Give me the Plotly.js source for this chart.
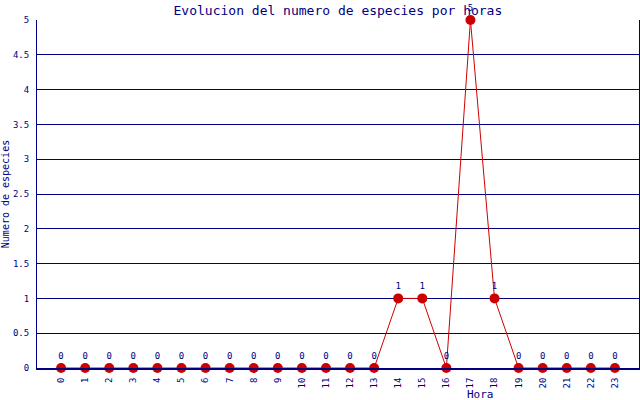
<!DOCTYPE html>
<html>
<head>
<meta charset="utf-8">
<script src="https://cdn.plot.ly/plotly-3.0.1.min.js"></script>
<style>html,body{margin:0;padding:0;background:#fff;}#chart{width:640px;height:400px;}</style>
</head>
<body>
<div id="chart"></div>
<script>
var horas = ["0","1","2","3","4","5","6","7","8","9","10","11","12","13","14","15","16","17","18","19","20","21","22","23"];
var especies = [0,0,0,0,0,0,0,0,0,0,0,0,0,0,1,1,0,5,1,0,0,0,0,0];
var yTicks = [0,0.5,1,1.5,2,2.5,3,3.5,4,4.5,5];

var navy = "#000080";
var red = "#cc0000";
var mono = "DejaVu Sans Mono, Liberation Mono, monospace";

var xs = horas.map(function(h){ return Number(h); });

var trace = {
  x: xs,
  y: especies,
  type: "scatter",
  mode: "lines+markers+text",
  line: {color: red, width: 1},
  marker: {color: red, size: 10},
  text: especies.map(String),
  textposition: "top center",
  textfont: {family: mono, size: 9, color: navy},
  cliponaxis: false,
  hoverinfo: "none"
};

var layout = {
  width: 640,
  height: 400,
  margin: {l: 37, r: 1, t: 20, b: 32, pad: 0},
  paper_bgcolor: "#ffffff",
  plot_bgcolor: "#ffffff",
  showlegend: false,
  title: {
    text: "Evolucion del numero de especies por horas",
    font: {family: mono, size: 13, color: navy},
    x: 0.528, xanchor: "center", y: 0.975, yanchor: "middle"
  },
  xaxis: {
    range: [-1, 24],
    tickmode: "array",
    tickvals: xs,
    ticktext: horas,
    tickangle: -90,
    tickfont: {family: mono, size: 9, color: navy},
    showgrid: false,
    zeroline: false,
    showline: true,
    linecolor: navy,
    linewidth: 2,
    ticks: "",
    ticklabelstandoff: 4,
    fixedrange: true
  },
  yaxis: {
    range: [0, 5],
    tickmode: "array",
    tickvals: yTicks,
    ticktext: yTicks.map(String),
    tickfont: {family: mono, size: 9, color: navy},
    showgrid: true,
    gridcolor: navy,
    gridwidth: 1,
    zeroline: false,
    showline: true,
    linecolor: navy,
    linewidth: 1,
    mirror: true,
    ticks: "",
    ticklabelstandoff: 5,
    title: {text: "Numero de especies", font: {family: mono, size: 10, color: navy}, standoff: 8},
    fixedrange: true
  },
  annotations: [{
    text: "Hora",
    xref: "paper", yref: "paper",
    x: (481 - 37) / 602, y: -0.075,
    xanchor: "center", yanchor: "middle",
    showarrow: false,
    font: {family: mono, size: 11, color: navy}
  }]
};

Plotly.newPlot("chart", [trace], layout, {displayModeBar: false, staticPlot: true});
</script>
</body>
</html>
